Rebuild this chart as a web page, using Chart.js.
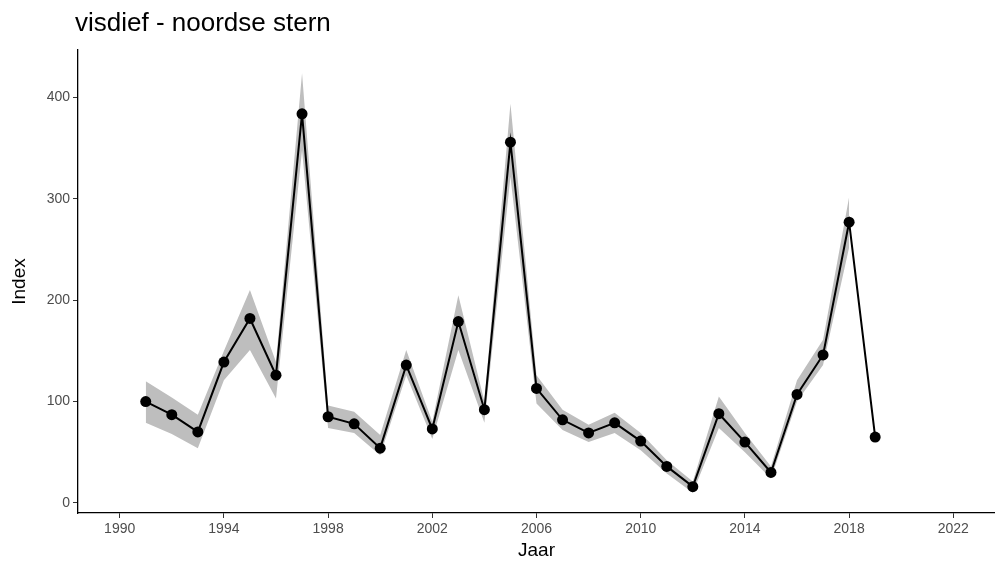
<!DOCTYPE html>
<html>
<head>
<meta charset="utf-8">
<script src="https://cdn.jsdelivr.net/npm/chart.js@4/dist/chart.umd.min.js"></script>
<style>
  html, body { margin: 0; padding: 0; background: #fff; }
  #wrap { position: relative; width: 995px; height: 562px; }
  #title {
    position: absolute; left: 75px; top: 7px;
    font-family: 'Liberation Sans', Arial, sans-serif;
    font-size: 26px; color: #000; white-space: nowrap;
  }
  canvas { display: block; }
</style>
</head>
<body>
<div id="wrap">
  <div id="title">visdief - noordse stern</div>
  <canvas id="chart" width="995" height="562"></canvas>
</div>
<script>
// ========== DATA ==========
const years = [1991, 1992, 1993, 1994, 1995, 1996, 1997, 1998, 1999, 2000,
               2001, 2002, 2003, 2004, 2005, 2006, 2007, 2008, 2009, 2010,
               2011, 2012, 2013, 2014, 2015, 2016, 2017, 2018, 2019];
const indexValues = [100, 87, 70, 139, 182, 126, 384, 85, 78, 54,
                     136, 73, 179, 92, 356, 113, 82, 69, 79, 61,
                     36, 16, 88, 60, 30, 107, 146, 277, 65];
// confidence band (none for the last year)
const upperBand = [120, 104, 87, 150, 210, 139, 424, 96, 90, 67,
                   151, 80, 205, 100, 394, 126, 92, 77, 89, 69,
                   42, 21, 105, 69, 36, 121, 161, 302, null];
const lowerBand = [79, 68, 54, 121, 151, 103, 348, 74, 69, 47,
                   126, 63, 151, 79, 322, 98, 72, 60, 69, 52,
                   29, 10, 74, 50, 24, 100, 136, 252, null];
const xTicks = [1990, 1994, 1998, 2002, 2006, 2010, 2014, 2018, 2022];
const yTicks = [0, 100, 200, 300, 400];
// ==========================

const FONT = "'Liberation Sans', Arial, sans-serif";

const toPoints = arr => years.map((y, i) => ({ x: y, y: arr[i] }));

const ctx = document.getElementById('chart').getContext('2d');

new Chart(ctx, {
    type: 'line',
    data: {
        datasets: [
            {
                label: 'Index',
                data: toPoints(indexValues),
                order: 1,
                borderColor: '#000',
                backgroundColor: '#000',
                borderWidth: 2,
                pointRadius: 5.5,
                pointBackgroundColor: '#000',
                pointBorderWidth: 0,
                tension: 0,
                fill: false
            },
            {
                label: 'upper',
                data: toPoints(upperBand),
                order: 2,
                borderWidth: 0,
                pointRadius: 0,
                backgroundColor: 'rgb(190, 190, 190)',
                fill: '+1'
            },
            {
                label: 'lower',
                data: toPoints(lowerBand),
                order: 3,
                borderWidth: 0,
                pointRadius: 0,
                backgroundColor: 'rgb(190, 190, 190)',
                fill: false
            }
        ]
    },
    options: {
        responsive: false,
        animation: false,
        layout: {
            autoPadding: false,
            padding: { top: 50, right: 0, left: 0, bottom: 0 }
        },
        plugins: {
            legend: { display: false },
            tooltip: { enabled: false }
        },
        scales: {
            x: {
                type: 'linear',
                min: 1988.4,
                max: 2023.6,
                afterBuildTicks: scale => {
                    scale.ticks = xTicks.map(v => ({ value: v }));
                },
                afterFit: scale => {
                    scale.height = 49;
                    scale.paddingLeft = 0;
                    scale.paddingRight = 0;
                },
                ticks: {
                    color: '#4d4d4d',
                    font: { family: FONT, size: 14 },
                    padding: 3,
                    callback: v => String(v)
                },
                grid: {
                    drawOnChartArea: false,
                    drawTicks: true,
                    tickLength: 5,
                    color: '#333'
                },
                border: { color: '#000', width: 1.3 },
                title: {
                    display: true,
                    text: 'Jaar',
                    color: '#000',
                    font: { family: FONT, size: 19 },
                    padding: { top: 0, bottom: 0 }
                }
            },
            y: {
                type: 'linear',
                min: -10,
                max: 447,
                afterBuildTicks: scale => {
                    scale.ticks = yTicks.map(v => ({ value: v }));
                },
                afterFit: scale => { scale.width = 78; },
                ticks: {
                    color: '#4d4d4d',
                    font: { family: FONT, size: 14 },
                    padding: 3
                },
                grid: {
                    drawOnChartArea: false,
                    drawTicks: true,
                    tickLength: 5,
                    color: '#333'
                },
                border: { color: '#000', width: 1.3 },
                title: {
                    display: true,
                    text: 'Index',
                    color: '#000',
                    font: { family: FONT, size: 19 },
                    padding: { top: 8, bottom: 0 }
                }
            }
        }
    }
});
</script>
</body>
</html>
